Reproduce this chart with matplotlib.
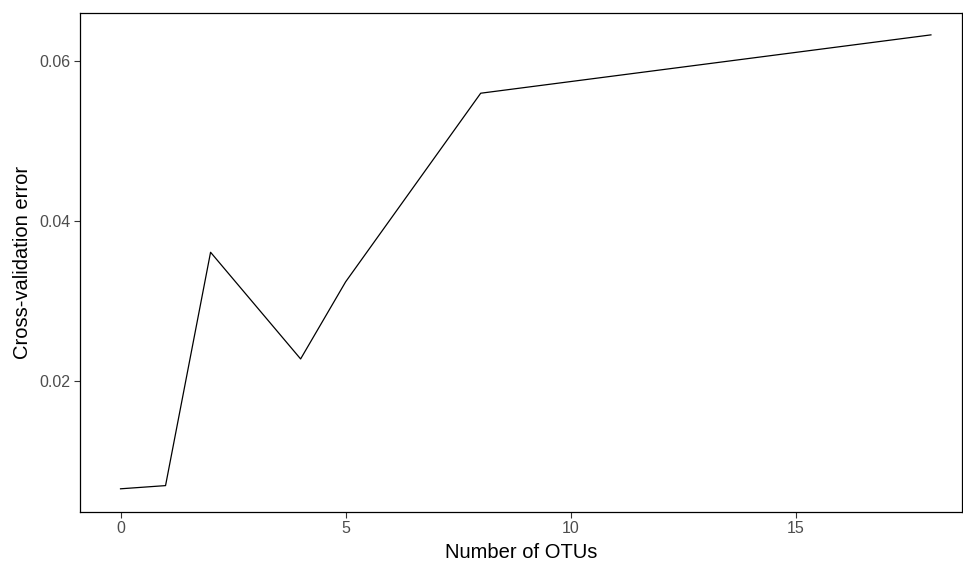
import matplotlib
matplotlib.use("Agg")
import matplotlib.pyplot as plt

# cross-validation error vs number of OTUs
n_otus = [0, 1, 2, 4, 5, 8, 18]
cv_error = [0.0065, 0.0069, 0.0361, 0.02275, 0.0324, 0.0560, 0.0633]

x_ticks = [0, 5, 10, 15]
y_ticks = [0.02, 0.04, 0.06]
y_tick_labels = ["0.02", "0.04", "0.06"]

plt.rcParams['font.family'] = ['Liberation Sans', 'DejaVu Sans']

fig = plt.figure(figsize=(9.63, 5.63), dpi=100)
ax = fig.add_axes([80 / 963, (563 - 511.5) / 563, 882 / 963, (511.5 - 12.5) / 563])

ax.plot(n_otus, cv_error, color="black", linewidth=0.9)

ax.set_xlim(-0.9, 18.69)
ax.set_ylim(0.00366, 0.0661)
ax.set_xticks(x_ticks)
ax.set_yticks(y_ticks)
ax.set_yticklabels(y_tick_labels)

for s in ax.spines.values():
    s.set_color("black")
    s.set_linewidth(0.9)

ax.tick_params(axis="both", length=4.5, width=0.8, color="#333333",
               labelcolor="#4D4D4D", labelsize=11.5, pad=2.5)

ax.set_xlabel("Number of OTUs", fontsize=14.5, color="black", labelpad=5)
ax.set_ylabel("Cross-validation error", fontsize=14.5, color="black", labelpad=5)

fig.savefig("out.png", dpi=100, facecolor="white")
